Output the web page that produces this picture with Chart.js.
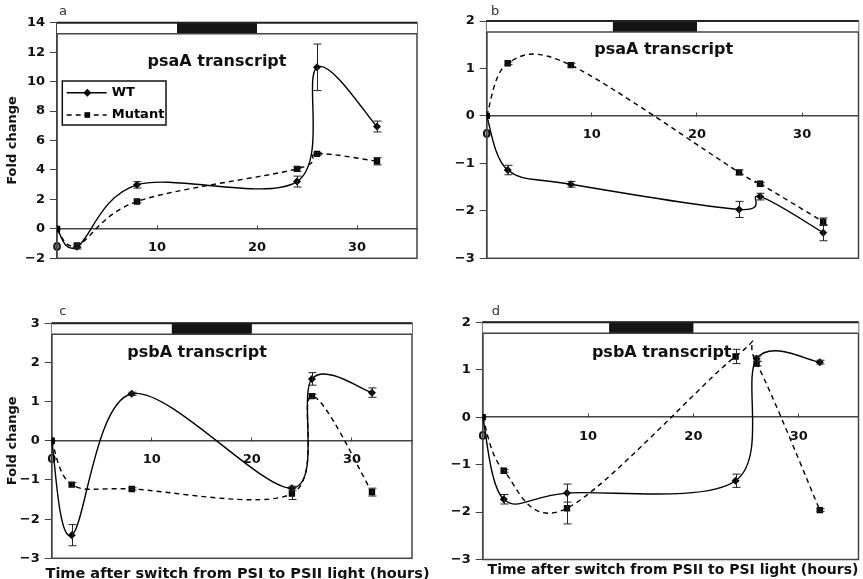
<!DOCTYPE html>
<html><head><meta charset="utf-8">
<script src="https://cdn.jsdelivr.net/npm/chart.js@4"></script>
<style>
html,body{margin:0;padding:0;background:#fff;width:863px;height:579px;overflow:hidden;position:relative}
canvas{position:absolute}
</style></head><body>
<canvas id="ca" width="430" height="280" style="left:0;top:0"></canvas>
<canvas id="cb" width="433" height="280" style="left:430px;top:0"></canvas>
<canvas id="cc" width="430" height="299" style="left:0;top:280px"></canvas>
<canvas id="cd" width="433" height="299" style="left:430px;top:280px"></canvas>
<script>
// ---------- data ----------
const hours = [0, 2, 8, 24, 26, 32];
const darkPeriod = [12, 20];
const xTickValues = [0, 10, 20, 30];
const xTickLabels = ['0', '10', '20', '30'];

const yTicksA = [-2, 0, 2, 4, 6, 8, 10, 12, 14];
const yLabelsA = ['\u22122', '0', '2', '4', '6', '8', '10', '12', '14'];
const yTicksB = [-3, -2, -1, 0, 1, 2];
const yLabelsB = ['\u22123', '\u22122', '\u22121', '0', '1', '2'];
const yTicksC = [-3, -2, -1, 0, 1, 2, 3];
const yLabelsC = ['\u22123', '\u22122', '\u22121', '0', '1', '2', '3'];
const yTicksD = [-3, -2, -1, 0, 1, 2];
const yLabelsD = ['\u22123', '\u22122', '\u22121', '0', '1', '2'];

const wtA = [0, -1.22, 2.99, 3.21, 10.97, 6.95];
const wtErrA = [0, 0.15, 0.22, 0.37, 1.58, 0.37];
const mutA = [0, -1.13, 1.86, 4.07, 5.09, 4.59];
const mutErrA = [0, 0.12, 0.1, 0.15, 0.1, 0.25];

const wtB = [0, -1.14, -1.44, -1.97, -1.70, -2.46];
const wtErrB = [0, 0.1, 0.06, 0.17, 0.07, 0.17];
const mutB = [0, 1.11, 1.07, -1.19, -1.43, -2.23];
const mutErrB = [0, 0.03, 0.04, 0.05, 0.03, 0.08];

const wtC = [0, -2.41, 1.20, -1.21, 1.58, 1.23];
const wtErrC = [0, 0.27, 0.04, 0.05, 0.16, 0.12];
const mutC = [0, -1.12, -1.23, -1.35, 1.14, -1.31];
const mutErrC = [0, 0.05, 0.03, 0.15, 0.05, 0.1];

const wtD = [0, -1.73, -1.60, -1.34, 1.23, 1.16];
const wtErrD = [0, 0.1, 0.19, 0.14, 0.06, 0.04];
const mutD = [0, -1.13, -1.92, 1.28, 1.13, -1.96];
const mutErrD = [0, 0.03, 0.33, 0.15, 0.05, 0.03];

const seriesNames = ['WT', 'Mutant'];
// ---------- drawing ----------
const FONT = '"DejaVu Sans", Verdana, sans-serif';
Chart.defaults.font.family = FONT;
Chart.defaults.color = '#111';

function marker(ctx, style, x, y, r) {
  ctx.beginPath();
  if (style === 'rectRot') {
    ctx.moveTo(x, y - r); ctx.lineTo(x + r, y); ctx.lineTo(x, y + r); ctx.lineTo(x - r, y); ctx.closePath();
  } else {
    const s = r * Math.SQRT1_2;
    ctx.rect(x - s, y - s, 2 * s, 2 * s);
  }
  ctx.fill();
}

// spreadsheet-style smoothing: tangent = (next - prev) / 6, computed on the scale pixels
const smoothCurve = {
  id: 'smoothCurve',
  beforeDatasetDraw(chart, args) {
    const meta = args.meta;
    if (!meta.dataset || !meta.dataset.updateControlPoints) return;
    meta.dataset.updateControlPoints(chart.chartArea, 'x');
    const pts = meta.data, n = pts.length;
    for (let i = 0; i < n; i++) {
      const p = pts[i], prev = pts[Math.max(i - 1, 0)], next = pts[Math.min(i + 1, n - 1)];
      const tx = (next.x - prev.x) / 6, ty = (next.y - prev.y) / 6;
      p.cp1x = p.x - tx; p.cp1y = p.y - ty;
      p.cp2x = p.x + tx; p.cp2y = p.y + ty;
    }
    meta.dataset._path = undefined;
  }
};

const deco = {
  id: 'deco',
  beforeDatasetsDraw(chart, args, o) {
    const {ctx, chartArea: ca, scales: {x}} = chart;
    ctx.save();
    ctx.strokeStyle = '#444'; ctx.lineWidth = 1.5;
    ctx.strokeRect(ca.left, ca.top, ca.right - ca.left, ca.bottom - ca.top);
    const bh = 11;
    ctx.fillStyle = '#fff'; ctx.fillRect(ca.left, ca.top, ca.right - ca.left, bh);
    const x0 = x.getPixelForValue(darkPeriod[0]), x1 = x.getPixelForValue(darkPeriod[1]);
    ctx.fillStyle = '#151515'; ctx.fillRect(x0, ca.top, x1 - x0, bh);
    ctx.beginPath(); ctx.moveTo(ca.left, ca.top + bh); ctx.lineTo(ca.right, ca.top + bh); ctx.stroke();
    ctx.strokeStyle = '#222'; ctx.lineWidth = 2;
    ctx.beginPath(); ctx.moveTo(ca.left, ca.top); ctx.lineTo(ca.right, ca.top); ctx.stroke();
    ctx.fillStyle = '#111'; ctx.font = 'bold 16px ' + FONT; ctx.textAlign = 'center'; ctx.textBaseline = 'alphabetic';
    ctx.fillText(o.title, ca.left + o.titleDx, ca.top + o.titleDy);
    ctx.font = '13px ' + FONT; ctx.textAlign = 'left'; ctx.fillStyle = '#333';
    ctx.fillText(o.label, ca.left + o.labelDx, ca.top - o.labelUp);
    ctx.restore();
  },
  afterDatasetsDraw(chart, args, o) {
    const {ctx, chartArea: ca, scales: {x, y}} = chart;
    ctx.save();
    ctx.strokeStyle = '#222'; ctx.lineWidth = 1;
    chart.data.datasets.forEach(ds => {
      ds.errors.forEach((e, j) => {
        if (!e) return;
        const px = Math.round(x.getPixelForValue(ds.data[j].x)) + 0.5;
        const yt = y.getPixelForValue(ds.data[j].y + e), yb = y.getPixelForValue(ds.data[j].y - e);
        ctx.beginPath();
        ctx.moveTo(px, yt); ctx.lineTo(px, yb);
        ctx.moveTo(px - 4, yt); ctx.lineTo(px + 4, yt);
        ctx.moveTo(px - 4, yb); ctx.lineTo(px + 4, yb);
        ctx.stroke();
      });
    });
    if (o.legend) {
      const lx = ca.left + 5.3, ly = ca.top + 58.3, lw = 103.7, lh = 44;
      ctx.fillStyle = '#fff'; ctx.fillRect(lx, ly, lw, lh);
      ctx.strokeStyle = '#111'; ctx.lineWidth = 1.5; ctx.strokeRect(lx, ly, lw, lh);
      const rows = [{y: ly + 11.7, dash: [], style: 'rectRot'}, {y: ly + 34, dash: [5, 4], style: 'rect'}];
      rows.forEach((r, i) => {
        ctx.strokeStyle = '#000'; ctx.lineWidth = 1.4; ctx.setLineDash(r.dash);
        ctx.beginPath(); ctx.moveTo(lx + 4.4, r.y); ctx.lineTo(lx + 44.4, r.y); ctx.stroke();
        ctx.setLineDash([]);
        ctx.fillStyle = '#000'; marker(ctx, r.style, lx + 25, r.y, 4);
        ctx.font = 'bold 13px ' + FONT; ctx.textAlign = 'left'; ctx.textBaseline = 'middle';
        ctx.fillText(seriesNames[i], lx + 49.4, r.y);
      });
    }
    if (o.xTitle) {
      ctx.fillStyle = '#111'; ctx.font = 'bold ' + o.xTitleSize + 'px ' + FONT;
      ctx.textAlign = 'center'; ctx.textBaseline = 'alphabetic';
      ctx.fillText(o.xTitle, o.xTitleX, o.xTitleY);
    }
    ctx.restore();
  }
};

function makeChart(id, c) {
  return new Chart(document.getElementById(id), {
    type: 'line',
    data: {
      datasets: [
        {label: seriesNames[0], data: hours.map((h, i) => ({x: h, y: c.wt[i]})), errors: c.wtErr,
         borderColor: '#000', backgroundColor: '#000', borderWidth: 1.4, pointStyle: 'rectRot',
         pointRadius: 4, pointBorderWidth: 0, tension: 0.4, fill: false},
        {label: seriesNames[1], data: hours.map((h, i) => ({x: h, y: c.mut[i]})), errors: c.mutErr,
         borderColor: '#000', backgroundColor: '#000', borderWidth: 1.4, borderDash: [5, 4], pointStyle: 'rect',
         pointRadius: 4.5, pointBorderWidth: 0, tension: 0.4, fill: false}
      ]
    },
    options: {
      responsive: false, animation: false, events: [],
      layout: {padding: {left: 0, top: c.pad[0], right: c.pad[1], bottom: c.pad[2]}},
      plugins: {legend: {display: false}, tooltip: {enabled: false}, deco: c.deco},
      scales: {
        x: {
          type: 'linear', min: 0, max: c.xMax, position: {y: 0},
          afterBuildTicks: s => { s.ticks = xTickValues.map(v => ({value: v})); },
          ticks: {callback: (v, i) => xTickLabels[i], font: {size: 13, weight: 'bold'}, color: '#111',
                  padding: 15.4, maxRotation: 0, autoSkip: false},
          grid: {drawOnChartArea: false, drawTicks: true, tickLength: -4, color: '#444', lineWidth: 1},
          border: {display: true, color: '#444', width: 1.5}
        },
        y: {
          type: 'linear', min: c.yTicks[0], max: c.yTicks[c.yTicks.length - 1],
          afterBuildTicks: s => { s.ticks = c.yTicks.map(v => ({value: v})); },
          afterFit: s => { s.width = c.left; },
          ticks: {callback: (v, i) => c.yLabels[i], font: {size: 13, weight: 'bold'}, color: '#111', padding: 5, autoSkip: false},
          grid: {drawOnChartArea: false, drawTicks: true, tickLength: 7, color: '#444', lineWidth: 1},
          border: {display: true, color: '#444', width: 1.5},
          title: {display: !!c.yTitle, text: c.yTitle || '', font: {size: 13, weight: 'bold'}, color: '#111',
                  padding: {top: 5.2, bottom: 0}}
        }
      }
    },
    plugins: [smoothCurve, deco]
  });
}

makeChart('ca', {wt: wtA, wtErr: wtErrA, mut: mutA, mutErr: mutErrA, yTicks: yTicksA, yLabels: yLabelsA,
  xMax: 36, left: 57, pad: [22.7, 13, 21.7], yTitle: 'Fold change',
  deco: {title: 'psaA transcript', titleDx: 160, titleDy: 42.8, label: 'a', labelDx: 2, labelUp: 7.7, legend: true}});
makeChart('cb', {wt: wtB, wtErr: wtErrB, mut: mutB, mutErr: mutErrB, yTicks: yTicksB, yLabels: yLabelsB,
  xMax: 35.36, left: 56.7, pad: [21, 0, 21.7], yTitle: null,
  deco: {title: 'psaA transcript', titleDx: 177, titleDy: 32.5, label: 'b', labelDx: 4.3, labelUp: 6}});
makeChart('cc', {wt: wtC, wtErr: wtErrC, mut: mutC, mutErr: mutErrC, yTicks: yTicksC, yLabels: yLabelsC,
  xMax: 36, left: 51.7, pad: [43.3, 18, 20.7], yTitle: 'Fold change',
  deco: {title: 'psbA transcript', titleDx: 145.3, titleDy: 33.4, label: 'c', labelDx: 7.6, labelUp: 8.3,
         xTitle: 'Time after switch from PSI to PSII light (hours)', xTitleSize: 14.5, xTitleX: 237.5, xTitleY: 298}});
makeChart('cd', {wt: wtD, wtErr: wtErrD, mut: mutD, mutErr: mutErrD, yTicks: yTicksD, yLabels: yLabelsD,
  xMax: 35.67, left: 52.7, pad: [42.3, 0, 19.5], yTitle: null,
  deco: {title: 'psbA transcript', titleDx: 179, titleDy: 34.2, label: 'd', labelDx: 9, labelUp: 7.3,
         xTitle: 'Time after switch from PSII to PSI light (hours)', xTitleSize: 14, xTitleX: 243, xTitleY: 293.5}});
</script>
</body></html>
